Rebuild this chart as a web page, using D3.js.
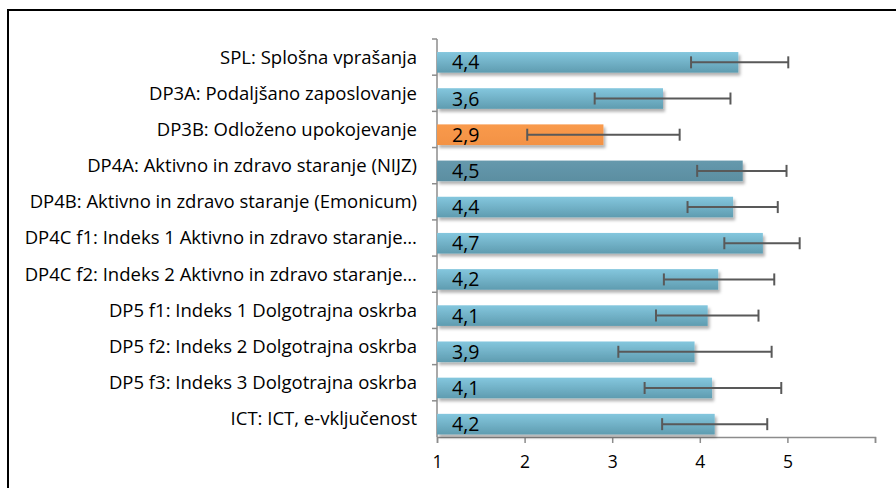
<!DOCTYPE html>
<html>
<head>
<meta charset="utf-8">
<script src="https://cdn.jsdelivr.net/npm/d3@7"></script>
<style>
body { margin: 0; background: #fff; }
text { font-family: "Open Sans", "Noto Sans", sans-serif; }
</style>
</head>
<body>
<script>
var width = 896;
var height = 488;

var categories = [
    'SPL: Splošna vprašanja',
    'DP3A: Podaljšano zaposlovanje ',
    'DP3B: Odloženo upokojevanje',
    'DP4A: Aktivno in zdravo staranje (NIJZ)',
    'DP4B: Aktivno in zdravo staranje (Emonicum)',
    'DP4C f1: Indeks 1 Aktivno in zdravo staranje…',
    'DP4C f2: Indeks 2 Aktivno in zdravo staranje…',
    'DP5 f1: Indeks 1 Dolgotrajna oskrba',
    'DP5 f2: Indeks 2 Dolgotrajna oskrba',
    'DP5 f3: Indeks 3 Dolgotrajna oskrba',
    'ICT: ICT, e-vključenost'
];
var means = [4.44, 3.58, 2.90, 4.49, 4.38, 4.72, 4.21, 4.09, 3.94, 4.14, 4.17];
var errLow = [3.90, 2.80, 2.03, 3.97, 3.86, 4.28, 3.59, 3.50, 3.07, 3.37, 3.57];
var errHigh = [5.01, 4.35, 3.77, 4.99, 4.89, 5.14, 4.85, 4.67, 4.82, 4.93, 4.77];
var barKind = ['blue', 'blue', 'orange', 'dark', 'blue', 'blue', 'blue', 'blue', 'blue', 'blue', 'blue'];
var xTicks = [1, 2, 3, 4, 5, 6];
var xTickLabels = ['1', '2', '3', '4', '5', ''];

var margin = { top: 39, right: 21, bottom: 51, left: 437 };

var svg = d3.select('body')
    .append('svg')
    .attr('width', width)
    .attr('height', height);

// frame
svg.append('rect')
    .attr('x', 8)
    .attr('y', 10)
    .attr('width', 900)
    .attr('height', 500)
    .attr('fill', 'none')
    .attr('stroke', '#000')
    .attr('stroke-width', 2);

var defs = svg.append('defs');
function grad(id, top, bottom) {
    var g = defs.append('linearGradient')
        .attr('id', id)
        .attr('x1', 0).attr('y1', 0).attr('x2', 0).attr('y2', 1);
    g.append('stop').attr('offset', '0%').attr('stop-color', top);
    g.append('stop').attr('offset', '100%').attr('stop-color', bottom);
}
grad('g-blue', '#84c7de', '#5f9cb0');
grad('g-orange', '#f99a4c', '#f39244');
grad('g-dark', '#6699ad', '#5b8ea1');

var shadow = defs.append('filter')
    .attr('id', 'shadow')
    .attr('x', '-5%').attr('y', '-20%')
    .attr('width', '115%').attr('height', '160%');
shadow.append('feDropShadow')
    .attr('dx', 2).attr('dy', 3)
    .attr('stdDeviation', 1.8)
    .attr('flood-color', '#000')
    .attr('flood-opacity', 0.3);

var x = d3.scaleLinear()
    .domain([1, 6])
    .range([margin.left, width - margin.right]);

var y = d3.scaleBand()
    .domain(categories)
    .range([margin.top, height - margin.bottom]);

var bw = y.bandwidth();

// axes
var xAxis = svg.append('g')
    .attr('transform', 'translate(0,' + (height - margin.bottom) + ')')
    .call(d3.axisBottom(x)
        .tickValues(xTicks)
        .tickFormat(function(d, i) { return xTickLabels[i]; })
        .tickSize(6)
        .tickPadding(13));
xAxis.select('.domain').attr('stroke', '#8c8c8c').attr('stroke-width', 1.5);
xAxis.selectAll('line').attr('stroke', '#8c8c8c').attr('stroke-width', 1.5);
xAxis.selectAll('text')
    .attr('font-size', 17.5)
    .attr('fill', '#000');

var yAxis = svg.append('g');
yAxis.append('line')
    .attr('x1', margin.left).attr('x2', margin.left)
    .attr('y1', margin.top).attr('y2', height - margin.bottom)
    .attr('stroke', '#8c8c8c').attr('stroke-width', 1.5);
yAxis.selectAll('.ytick')
    .data(categories)
    .enter()
    .append('line')
    .attr('x1', margin.left - 5).attr('x2', margin.left)
    .attr('y1', function(d) { return y(d); })
    .attr('y2', function(d) { return y(d); })
    .attr('stroke', '#8c8c8c').attr('stroke-width', 1.5);

svg.selectAll('.cat')
    .data(categories)
    .enter()
    .append('text')
    .attr('x', margin.left - 20)
    .attr('y', function(d) { return y(d) + bw / 2; })
    .attr('dy', '0.35em')
    .attr('text-anchor', 'end')
    .attr('font-size', 18.5)
    .attr('fill', '#000')
    .text(function(d) { return d; });

// bars
var rows = svg.selectAll('.row')
    .data(categories)
    .enter()
    .append('g');

rows.append('rect')
    .attr('x', x(1))
    .attr('y', function(d) { return y(d) + bw * 0.36; })
    .attr('width', function(d, i) { return x(means[i]) - x(1); })
    .attr('height', bw * 0.57)
    .attr('fill', function(d, i) { return 'url(#g-' + barKind[i] + ')'; })
    .attr('filter', 'url(#shadow)');

rows.append('text')
    .attr('x', x(1) + 15)
    .attr('y', function(d) { return y(d) + bw * 0.645; })
    .attr('dy', '0.36em')
    .attr('font-size', 19.5)
    .attr('fill', '#000')
    .text(function(d, i) { return means[i].toFixed(1).replace('.', ','); });

// error bars
var ec = '#595959';
rows.append('line')
    .attr('x1', function(d, i) { return x(errLow[i]); })
    .attr('x2', function(d, i) { return x(errHigh[i]); })
    .attr('y1', function(d) { return y(d) + bw * 0.645; })
    .attr('y2', function(d) { return y(d) + bw * 0.645; })
    .attr('stroke', ec).attr('stroke-width', 2);
rows.append('line')
    .attr('x1', function(d, i) { return x(errLow[i]); })
    .attr('x2', function(d, i) { return x(errLow[i]); })
    .attr('y1', function(d) { return y(d) + bw * 0.645 - 6; })
    .attr('y2', function(d) { return y(d) + bw * 0.645 + 6; })
    .attr('stroke', ec).attr('stroke-width', 2);
rows.append('line')
    .attr('x1', function(d, i) { return x(errHigh[i]); })
    .attr('x2', function(d, i) { return x(errHigh[i]); })
    .attr('y1', function(d) { return y(d) + bw * 0.645 - 6; })
    .attr('y2', function(d) { return y(d) + bw * 0.645 + 6; })
    .attr('stroke', ec).attr('stroke-width', 2);
</script>
</body>
</html>
